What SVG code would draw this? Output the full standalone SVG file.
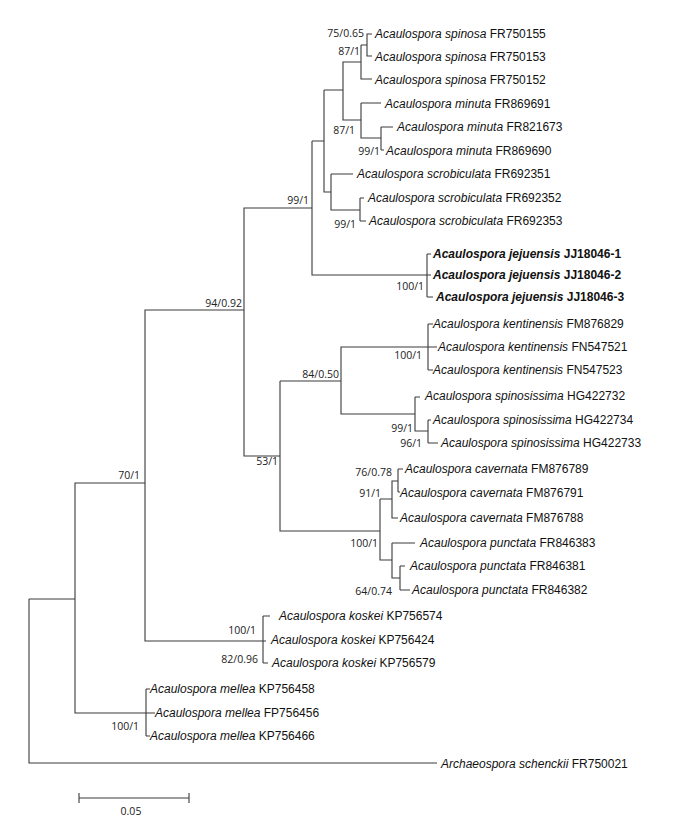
<svg xmlns="http://www.w3.org/2000/svg" width="688" height="824" viewBox="0 0 688 824">
<style>
.e{stroke:#3a3a3a;stroke-width:1.1;fill:none}
.t{font-family:"Liberation Sans",Arial,sans-serif;font-size:12px;fill:#111}
.t tspan.i{font-style:italic}
.b{font-weight:bold}
.s{font-family:"Open Sans","DejaVu Sans",sans-serif;font-size:10.5px;fill:#222;text-anchor:end}
</style>
<rect width="688" height="824" fill="#fff"/>
<g id="connectors" class="e">
<path d="M29,599V763H437M29,599H75V483H145M75,599V713H146M146,689V736M146,689H150M146,713H155M146,736H150"/>
<path d="M145,483V310H244M145,483V641H263M263,616V663M263,616H270M263,641H266M263,663H268"/>
<path d="M244,310V208H312M244,310V456H280"/>
<path d="M312,141V275H427M312,141H324M427,254V297M427,254H431M427,275H431M427,297H433"/>
<path d="M324,90V192H331M324,90H343V62H361M343,90V120H361"/>
<path d="M361,45V79H372M361,45H367V34H372M367,45V56H372"/>
<path d="M361,103V138H381M361,103H381M381,127V150M381,127H393M381,150H384"/>
<path d="M331,174V210H360M331,174H353M360,198V221M360,198H364M360,221H366"/>
<path d="M280,381V531H380M280,381H341V347H428M341,381V414H415M428,324V370M428,324H433M428,347H437M428,370H433"/>
<path d="M415,397V431H428M415,397H420M428,420V443M428,420H431M428,443H438"/>
<path d="M380,499V560H392M380,499H392V481H398M392,499V518H398M398,469V492M398,469H403M398,492H400"/>
<path d="M392,543V578H400M392,543H415M400,566V590M400,566H405M400,590H410"/>
<path d="M79,798H189M79,793V803M189,793V803"/>
</g>
<g id="leaves" class="t">
<text id="n1" x="375" y="38"><tspan class="i">Acaulospora spinosa</tspan> FR750155</text>
<text id="n2" x="375" y="61"><tspan class="i">Acaulospora spinosa</tspan> FR750153</text>
<text id="n3" x="375" y="84"><tspan class="i">Acaulospora spinosa</tspan> FR750152</text>
<text id="n4" x="385" y="108"><tspan class="i">Acaulospora minuta</tspan> FR869691</text>
<text id="n5" x="397" y="131"><tspan class="i">Acaulospora minuta</tspan> FR821673</text>
<text id="n6" x="386" y="155"><tspan class="i">Acaulospora minuta</tspan> FR869690</text>
<text id="n7" x="357" y="178"><tspan class="i">Acaulospora scrobiculata</tspan> FR692351</text>
<text id="n8" x="368" y="202"><tspan class="i">Acaulospora scrobiculata</tspan> FR692352</text>
<text id="n9" x="369" y="225"><tspan class="i">Acaulospora scrobiculata</tspan> FR692353</text>
<text id="n10" x="433" y="258" class="b"><tspan class="i">Acaulospora jejuensis</tspan> JJ18046-1</text>
<text id="n11" x="433" y="279" class="b"><tspan class="i">Acaulospora jejuensis</tspan> JJ18046-2</text>
<text id="n12" x="436" y="301" class="b"><tspan class="i">Acaulospora jejuensis</tspan> JJ18046-3</text>
<text id="n13" x="433" y="328"><tspan class="i">Acaulospora kentinensis</tspan> FM876829</text>
<text id="n14" x="438" y="351"><tspan class="i">Acaulospora kentinensis</tspan> FN547521</text>
<text id="n15" x="433" y="374"><tspan class="i">Acaulospora kentinensis</tspan> FN547523</text>
<text id="n16" x="425" y="400"><tspan class="i">Acaulospora spinosissima</tspan> HG422732</text>
<text id="n17" x="433" y="424"><tspan class="i">Acaulospora spinosissima</tspan> HG422734</text>
<text id="n18" x="441" y="447"><tspan class="i">Acaulospora spinosissima</tspan> HG422733</text>
<text id="n19" x="405" y="473"><tspan class="i">Acaulospora cavernata</tspan> FM876789</text>
<text id="n20" x="400" y="497"><tspan class="i">Acaulospora cavernata</tspan> FM876791</text>
<text id="n21" x="400" y="522"><tspan class="i">Acaulospora cavernata</tspan> FM876788</text>
<text id="n22" x="420" y="547"><tspan class="i">Acaulospora punctata</tspan> FR846383</text>
<text id="n23" x="410" y="570"><tspan class="i">Acaulospora punctata</tspan> FR846381</text>
<text id="n24" x="412" y="594"><tspan class="i">Acaulospora punctata</tspan> FR846382</text>
<text id="n25" x="279" y="620"><tspan class="i">Acaulospora koskei</tspan> KP756574</text>
<text id="n26" x="271" y="644"><tspan class="i">Acaulospora koskei</tspan> KP756424</text>
<text id="n27" x="272" y="667"><tspan class="i">Acaulospora koskei</tspan> KP756579</text>
<text id="n28" x="150" y="693"><tspan class="i">Acaulospora mellea</tspan> KP756458</text>
<text id="n29" x="155" y="717"><tspan class="i">Acaulospora mellea</tspan> FP756456</text>
<text id="n30" x="150" y="740"><tspan class="i">Acaulospora mellea</tspan> KP756466</text>
<text id="n31" x="441" y="768"><tspan class="i">Archaeospora schenckii</tspan> FR750021</text>
</g>
<g id="support" class="s">
<text x="364" y="37">75/0.65</text>
<text x="360" y="55">87/1</text>
<text x="355" y="134">87/1</text>
<text x="380" y="155">99/1</text>
<text x="356" y="228">99/1</text>
<text x="309" y="204">99/1</text>
<text x="424" y="290">100/1</text>
<text x="242" y="307">94/0.92</text>
<text x="422" y="359">100/1</text>
<text x="339" y="378">84/0.50</text>
<text x="413" y="432">99/1</text>
<text x="422" y="447">96/1</text>
<text x="278" y="465">53/1</text>
<text x="392" y="476">76/0.78</text>
<text x="381" y="497">91/1</text>
<text x="378" y="547">100/1</text>
<text x="392" y="595">64/0.74</text>
<text x="140" y="479">70/1</text>
<text x="256" y="634">100/1</text>
<text x="258" y="663">82/0.96</text>
<text x="139" y="730">100/1</text>
</g>
<g id="scale"><text x="131" y="815" class="s" style="text-anchor:middle">0.05</text></g>
</svg>
